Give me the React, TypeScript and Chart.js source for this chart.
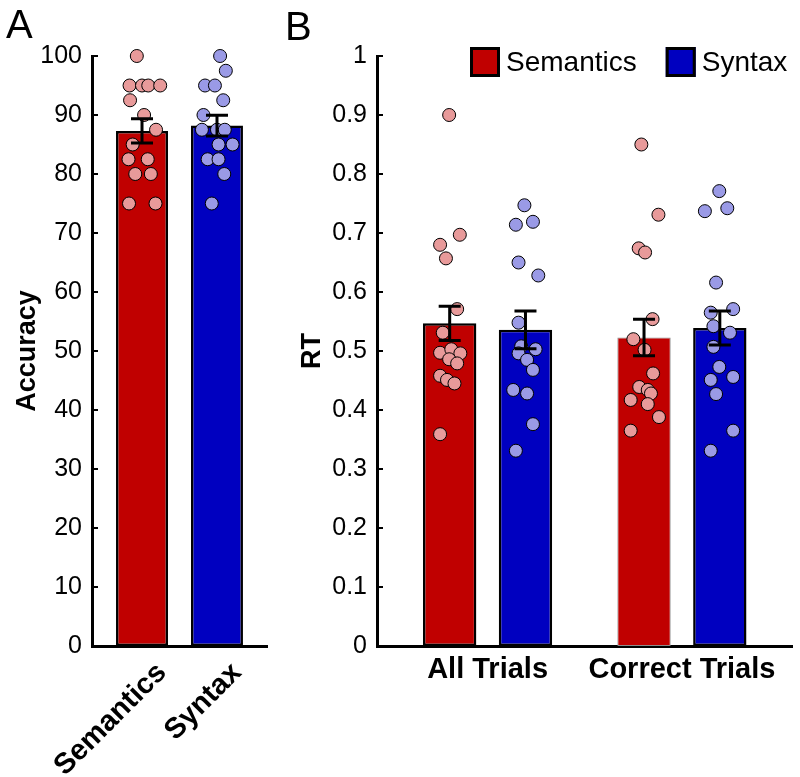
import React, { useEffect, useRef } from 'react';
import { Chart, registerables } from 'chart.js';

Chart.register(...registerables);

const FONT = "'Liberation Sans', Arial, Helvetica, sans-serif";
const RED = '#C00000';
const BLUE = '#0000C0';
const PINK = '#E89A9A';
const LILAC = '#9A9AE6';

// ---------- Panel A : Accuracy ----------
const accCategories = ['Semantics', 'Syntax'];
const accMeans = [87.3, 88.2];
const accErrors = [2.05, 1.75];
const accTicks = [0, 10, 20, 30, 40, 50, 60, 70, 80, 90, 100];
const accSemanticsScores = [100, 95, 95, 95, 95, 92.5, 90, 87.5, 85, 82.5, 82.5, 80, 80, 75, 75];
const accSemanticsJitter = [-0.1, -0.24, 0, 0.12, 0.35, -0.23, 0.04, 0.27, -0.18, -0.26, 0.11, -0.13, 0.17, -0.25, 0.26];
const accSyntaxScores = [100, 97.5, 95, 95, 92.5, 90, 87.5, 87.5, 87.5, 85, 85, 82.5, 82.5, 80, 75];
const accSyntaxJitter = [0.06, 0.17, -0.23, -0.04, 0.12, -0.26, -0.29, 0, 0.15, 0.03, 0.3, -0.18, 0.03, 0.14, -0.1];

// ---------- Panel B : RT ----------
const rtCategories = ['All Trials', 'Correct Trials'];
const rtSeries = ['Semantics', 'Syntax'];
const rtSemanticsMeans = [0.547, 0.523];
const rtSemanticsErrors = [0.029, 0.031];
const rtSyntaxMeans = [0.536, 0.539];
const rtSyntaxErrors = [0.032, 0.029];
const rtTicks = [0, 0.1, 0.2, 0.3, 0.4, 0.5, 0.6, 0.7, 0.8, 0.9, 1];
const rtSemanticsAll = [0.9, 0.697, 0.68, 0.657, 0.571, 0.531, 0.497, 0.503, 0.496, 0.486, 0.479, 0.458, 0.451, 0.445, 0.359];
const rtSemanticsAllJitter = [-0.01, 0.19, -0.18, -0.07, 0.14, -0.13, -0.18, 0.03, 0.2, -0.01, 0.14, -0.18, -0.05, 0.09, -0.18];
const rtSyntaxAll = [0.747, 0.719, 0.714, 0.65, 0.628, 0.548, 0.508, 0.503, 0.496, 0.485, 0.468, 0.434, 0.428, 0.376, 0.331];
const rtSyntaxAllJitter = [-0.02, 0.14, -0.18, -0.13, 0.24, -0.13, -0.08, 0.19, -0.13, 0.03, 0.14, -0.23, 0.03, 0.14, -0.18];
const rtSemanticsCorrect = [0.85, 0.731, 0.674, 0.667, 0.554, 0.52, 0.502, 0.462, 0.439, 0.434, 0.428, 0.417, 0.41, 0.388, 0.365];
const rtSemanticsCorrectJitter = [-0.05, 0.27, -0.1, 0.02, 0.16, -0.2, 0.01, 0.17, -0.09, 0.07, 0.13, -0.25, 0.07, 0.28, -0.25];
const rtSyntaxCorrect = [0.771, 0.737, 0.742, 0.616, 0.565, 0.571, 0.542, 0.531, 0.507, 0.473, 0.451, 0.456, 0.427, 0.365, 0.331];
const rtSyntaxCorrectJitter = [-0.01, -0.28, 0.14, -0.07, -0.17, 0.25, -0.12, 0.19, -0.12, -0.01, -0.17, 0.25, -0.07, 0.25, -0.17];

// ---------- layout constants ----------
const CANVAS_H = 777;
const A_W = 285;
const B_W = 515;
const PLOT_TOP = 56;
const X_AXIS_H = 131;
const Y_AXIS_W = 92;

const A_CP = 1;
const A_BP = 0.693;
const B_CP = 0.78;
const B_BP = 0.704;

const errorBarPlugin = {
  id: 'errorBars',
  afterDatasetsDraw(chart: any) {
    const ctx = chart.ctx;
    const ys = chart.scales.y;
    chart.data.datasets.forEach((ds: any, di: number) => {
      if (!ds.errors) return;
      const meta = chart.getDatasetMeta(di);
      meta.data.forEach((el: any, i: number) => {
        const m = ds.data[i].y;
        const e = ds.errors[i];
        const top = ys.getPixelForValue(m + e);
        const bot = ys.getPixelForValue(m - e);
        const cap = 11;
        ctx.save();
        ctx.strokeStyle = '#000';
        ctx.lineWidth = 3;
        ctx.lineCap = 'butt';
        ctx.beginPath();
        ctx.moveTo(el.x, top);
        ctx.lineTo(el.x, bot);
        ctx.moveTo(el.x - cap, top);
        ctx.lineTo(el.x + cap, top);
        ctx.moveTo(el.x - cap, bot);
        ctx.lineTo(el.x + cap, bot);
        ctx.stroke();
        ctx.restore();
      });
    });
  },
};

const inwardTicksPlugin = {
  id: 'inwardTicks',
  afterDraw(chart: any) {
    const ctx = chart.ctx;
    const s = chart.scales.y;
    const x0 = chart.chartArea.left;
    ctx.save();
    ctx.strokeStyle = '#000';
    ctx.lineWidth = 2;
    s.ticks.forEach((_t: any, i: number) => {
      const py = Math.round(s.getPixelForTick(i));
      ctx.beginPath();
      ctx.moveTo(x0, py);
      ctx.lineTo(x0 + 6, py);
      ctx.stroke();
    });
    ctx.restore();
  },
};

const rtLegendPlugin = {
  id: 'rtLegend',
  afterDraw(chart: any) {
    const ctx = chart.ctx;
    const area = chart.chartArea;
    const box = 30;
    const top = 47;
    let x = area.left + 93;
    ctx.save();
    ctx.font = `28px ${FONT}`;
    ctx.textBaseline = 'middle';
    ctx.textAlign = 'left';
    chart.data.datasets
      .filter((d: any) => d.type === 'bar')
      .forEach((ds: any) => {
        ctx.fillStyle = ds.legendColor;
        ctx.fillRect(x, top, box, box);
        ctx.lineWidth = 3;
        ctx.strokeStyle = '#000';
        ctx.strokeRect(x + 1.5, top + 1.5, box - 3, box - 3);
        x += box + 6;
        ctx.fillStyle = '#000';
        ctx.fillText(ds.label, x, top + box / 2 + 1);
        x += ctx.measureText(ds.label).width + 29;
      });
    ctx.restore();
  },
};

function yAxis(ticks: number[], title: string) {
  return {
    type: 'linear',
    min: ticks[0],
    max: ticks[ticks.length - 1],
    afterBuildTicks: (s: any) => {
      s.ticks = ticks.map((v) => ({ value: v }));
    },
    afterFit: (s: any) => {
      s.width = Y_AXIS_W;
    },
    ticks: {
      color: '#000',
      padding: 10,
      font: { family: FONT, size: 25 },
      callback: (v: any) => String(Math.round(Number(v) * 1000) / 1000),
    },
    grid: { display: false, drawTicks: false },
    border: { display: true, color: '#000', width: 3 },
    title: {
      display: true,
      text: title,
      color: '#000',
      font: { family: FONT, size: 27, weight: 'bold' },
      padding: { top: 11, bottom: 0 },
    },
  };
}

function xAxis(min: number, max: number, labels: string[], rotation: number, labelOffset: number, padding: number) {
  return {
    type: 'linear',
    min,
    max,
    offset: false,
    afterBuildTicks: (s: any) => {
      s.ticks = labels.map((_l, i) => ({ value: i + 1 }));
    },
    afterFit: (s: any) => {
      s.height = X_AXIS_H;
    },
    ticks: {
      autoSkip: false,
      minRotation: rotation,
      maxRotation: rotation,
      color: '#000',
      padding,
      labelOffset,
      font: { family: FONT, size: 29, weight: 'bold' },
      callback: (v: any) => labels[Math.round(Number(v)) - 1] ?? '',
    },
    grid: { display: false, drawTicks: false },
    border: { display: true, color: '#000', width: 3 },
  };
}

function scatterDs(points: { x: number; y: number }[], color: string) {
  return {
    type: 'scatter',
    data: points,
    backgroundColor: color,
    borderColor: '#000',
    borderWidth: 1,
    pointRadius: 6.5,
    clip: false,
    order: 1,
  };
}

function jittered(values: number[], jitter: number[], center: number, bw: number) {
  return values.map((v, i) => ({ x: center + jitter[i] * bw, y: v }));
}

function configA(): any {
  const bw = A_CP * A_BP;
  return {
    type: 'bar',
    data: {
      datasets: [
        scatterDs(jittered(accSemanticsScores, accSemanticsJitter, 1, bw), PINK),
        scatterDs(jittered(accSyntaxScores, accSyntaxJitter, 2, bw), LILAC),
        {
          type: 'bar',
          label: 'Accuracy',
          data: accMeans.map((v, i) => ({ x: i + 1, y: v })),
          errors: accErrors,
          backgroundColor: [RED, BLUE],
          borderColor: '#000',
          borderWidth: 2.5,
          borderSkipped: false,
          categoryPercentage: A_CP,
          barPercentage: A_BP,
          order: 2,
        },
      ],
    },
    options: {
      responsive: false,
      maintainAspectRatio: false,
      animation: false,
      events: [],
      layout: { padding: { left: 0, right: A_W - 267, top: PLOT_TOP, bottom: 0 } },
      plugins: { legend: { display: false }, tooltip: { enabled: false } },
      scales: {
        x: xAxis(0.333, 2.667, accCategories, 45, 20, 10),
        y: yAxis(accTicks, 'Accuracy'),
      },
    },
    plugins: [errorBarPlugin, inwardTicksPlugin],
  };
}

function configB(): any {
  const bw = (B_CP / 2) * B_BP;
  const off = B_CP / 4;
  const semPoints = [
    ...jittered(rtSemanticsAll, rtSemanticsAllJitter, 1 - off, bw),
    ...jittered(rtSemanticsCorrect, rtSemanticsCorrectJitter, 2 - off, bw),
  ];
  const synPoints = [
    ...jittered(rtSyntaxAll, rtSyntaxAllJitter, 1 + off, bw),
    ...jittered(rtSyntaxCorrect, rtSyntaxCorrectJitter, 2 + off, bw),
  ];
  return {
    type: 'bar',
    data: {
      datasets: [
        scatterDs(semPoints, PINK),
        scatterDs(synPoints, LILAC),
        {
          type: 'bar',
          label: rtSeries[0],
          legendColor: RED,
          data: rtSemanticsMeans.map((v, i) => ({ x: i + 1, y: v })),
          errors: rtSemanticsErrors,
          backgroundColor: RED,
          borderColor: ['#000', '#8c8c8c'],
          borderWidth: [2.5, 1],
          borderSkipped: false,
          categoryPercentage: B_CP,
          barPercentage: B_BP,
          order: 2,
        },
        {
          type: 'bar',
          label: rtSeries[1],
          legendColor: BLUE,
          data: rtSyntaxMeans.map((v, i) => ({ x: i + 1, y: v })),
          errors: rtSyntaxErrors,
          backgroundColor: BLUE,
          borderColor: '#000',
          borderWidth: 2.5,
          borderSkipped: false,
          categoryPercentage: B_CP,
          barPercentage: B_BP,
          order: 2,
        },
      ],
    },
    options: {
      responsive: false,
      maintainAspectRatio: false,
      animation: false,
      events: [],
      layout: { padding: { left: 0, right: B_W - (793 - 285), top: PLOT_TOP, bottom: 0 } },
      plugins: { legend: { display: false }, tooltip: { enabled: false } },
      scales: {
        x: xAxis(0.431, 2.569, rtCategories, 0, 0, 7),
        y: yAxis(rtTicks, 'RT'),
      },
    },
    plugins: [errorBarPlugin, inwardTicksPlugin, rtLegendPlugin],
  };
}

export default function App() {
  const refA = useRef<HTMLCanvasElement>(null);
  const refB = useRef<HTMLCanvasElement>(null);
  useEffect(() => {
    const a = new Chart(refA.current as HTMLCanvasElement, configA());
    const b = new Chart(refB.current as HTMLCanvasElement, configB());
    return () => {
      a.destroy();
      b.destroy();
    };
  }, []);
  const letter: React.CSSProperties = {
    position: 'absolute',
    font: `40px ${FONT}`,
    lineHeight: '40px',
    color: '#000',
  };
  return (
    <div style={{ position: 'absolute', left: 0, top: 0, width: 800, height: CANVAS_H, background: '#fff', overflow: 'hidden' }}>
      <canvas
        ref={refA}
        width={A_W}
        height={CANVAS_H}
        style={{ position: 'absolute', left: 0, top: 0, width: A_W, height: CANVAS_H }}
      />
      <canvas
        ref={refB}
        width={B_W}
        height={CANVAS_H}
        style={{ position: 'absolute', left: A_W, top: 0, width: B_W, height: CANVAS_H }}
      />
      <div style={{ ...letter, left: 6, top: 4 }}>A</div>
      <div style={{ ...letter, left: 285, top: 6 }}>B</div>
    </div>
  );
}
